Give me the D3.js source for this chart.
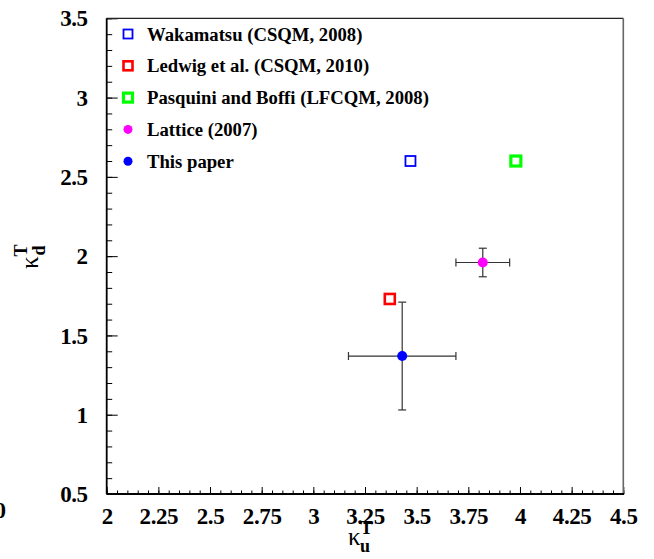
<!DOCTYPE html>
<html>
<head>
<meta charset="utf-8">
<script src="https://cdn.jsdelivr.net/npm/d3@7"></script>
<style>
  html, body { margin: 0; padding: 0; background: #fff; }
  svg { display: block; }
</style>
</head>
<body>
<svg id="chart" width="654" height="559"></svg>
<script>
// ---- data ----
const seriesNames = [
  "Wakamatsu (CSQM, 2008)",
  "Ledwig et al. (CSQM, 2010)",
  "Pasquini and Boffi (LFCQM, 2008)",
  "Lattice (2007)",
  "This paper"
];
const seriesColors = ["#0000ff", "#ff0000", "#00ff00", "#ff00ff", "#0000ff"];
const seriesShapes = ["square", "square", "square", "circle", "circle"];
const kappaU = [3.47, 3.37, 3.98, 3.82, 3.43];
const kappaD = [2.60, 1.73, 2.60, 1.96, 1.37];
const errU = [0, 0, 0, 0.13, 0.26];
const errD = [0, 0, 0, 0.09, 0.34];
const xTickLabels = ["2", "2.25", "2.5", "2.75", "3", "3.25", "3.5", "3.75", "4", "4.25", "4.5"];
const yTickLabels = ["0.5", "1", "1.5", "2", "2.5", "3", "3.5"];

const SERIF = "'Liberation Serif', 'Times New Roman', Times, 'DejaVu Serif', serif";

// ---- layout ----
const svg = d3.select("#chart");
const frame = { left: 106.7, right: 623.3, top: 18.3, bottom: 494 };

const x = d3.scaleLinear().domain([2, 4.5]).range([frame.left, frame.right]);
const y = d3.scaleLinear().domain([0.5, 3.5]).range([frame.bottom, frame.top]);

const g = svg.append("g");

// minor ticks, drawn inward
const xMinor = d3.range(2, 4.5001, 0.05);
const yMinor = d3.range(0.5, 3.5001, 0.1);

g.append("g")
  .attr("transform", `translate(0,${frame.bottom})`)
  .call(d3.axisBottom(x).tickValues(xMinor).tickSize(-3.5).tickFormat(""))
  .call(a => a.select(".domain").remove())
  .selectAll("line").attr("stroke", "#000").attr("stroke-width", 1);

g.append("g")
  .attr("transform", `translate(${frame.left},0)`)
  .call(d3.axisLeft(y).tickValues(yMinor).tickSize(-5.5).tickFormat(""))
  .call(a => a.select(".domain").remove())
  .selectAll("line").attr("stroke", "#000").attr("stroke-width", 1);

// major x ticks + labels
const xAxis = g.append("g")
  .attr("transform", `translate(0,${frame.bottom})`)
  .call(d3.axisBottom(x)
    .tickValues(xTickLabels.map(Number))
    .tickSize(-7)
    .tickPadding(0)
    .tickFormat((d, i) => xTickLabels[i]));
xAxis.select(".domain").remove();
xAxis.selectAll("line").attr("stroke", "#000").attr("stroke-width", 1);
xAxis.selectAll("text")
  .attr("y", 0)
  .attr("dy", "30")
  .style("font-family", SERIF)
  .style("font-size", "23px")
  .style("font-weight", "bold")
  .style("letter-spacing", "-0.4px")
  .attr("fill", "#000");

// major y ticks + labels
const yAxis = g.append("g")
  .attr("transform", `translate(${frame.left},0)`)
  .call(d3.axisLeft(y)
    .tickValues(yTickLabels.map(Number))
    .tickSize(-11)
    .tickPadding(0)
    .tickFormat((d, i) => yTickLabels[i]));
yAxis.select(".domain").remove();
yAxis.selectAll("line").attr("stroke", "#000").attr("stroke-width", 1);
yAxis.selectAll("text")
  .attr("x", -19)
  .attr("dy", "0.33em")
  .style("font-family", SERIF)
  .style("font-size", "23px")
  .style("font-weight", "bold")
  .style("letter-spacing", "-0.4px")
  .attr("fill", "#000");

// clipped label at the left edge
svg.append("text")
  .attr("x", 6).attr("y", 518)
  .attr("text-anchor", "end")
  .style("font-family", SERIF)
  .style("font-size", "23px").style("font-weight", "bold")
  .text("0");

// frame
svg.append("line").attr("x1", frame.left).attr("x2", frame.right)
  .attr("y1", frame.top).attr("y2", frame.top)
  .attr("stroke", "#222").attr("stroke-width", 1.3);
svg.append("line").attr("x1", frame.right).attr("x2", frame.right)
  .attr("y1", frame.top).attr("y2", frame.bottom)
  .attr("stroke", "#666").attr("stroke-width", 1.6);
svg.append("line").attr("x1", frame.left).attr("x2", frame.right + 0.8)
  .attr("y1", frame.bottom).attr("y2", frame.bottom)
  .attr("stroke", "#000").attr("stroke-width", 1.8);
svg.append("line").attr("x1", frame.left).attr("x2", frame.left)
  .attr("y1", frame.top).attr("y2", frame.bottom)
  .attr("stroke", "#000").attr("stroke-width", 1.8);

// error bars
const cap = 4;
const errG = svg.append("g").attr("stroke", "#333").attr("stroke-width", 1.2);
seriesNames.forEach((name, i) => {
  if (errU[i] > 0) {
    const cx = x(kappaU[i]), cy = y(kappaD[i]);
    const x0 = x(kappaU[i] - errU[i]), x1 = x(kappaU[i] + errU[i]);
    const y0 = y(kappaD[i] - errD[i]), y1 = y(kappaD[i] + errD[i]);
    errG.append("line").attr("x1", x0).attr("x2", x1).attr("y1", cy).attr("y2", cy);
    errG.append("line").attr("x1", cx).attr("x2", cx).attr("y1", y0).attr("y2", y1);
    errG.append("line").attr("x1", x0).attr("x2", x0).attr("y1", cy - cap).attr("y2", cy + cap);
    errG.append("line").attr("x1", x1).attr("x2", x1).attr("y1", cy - cap).attr("y2", cy + cap);
    errG.append("line").attr("x1", cx - cap).attr("x2", cx + cap).attr("y1", y0).attr("y2", y0);
    errG.append("line").attr("x1", cx - cap).attr("x2", cx + cap).attr("y1", y1).attr("y2", y1);
  }
});

// markers
const squareStroke = [1.8, 2.6, 3.2];
function drawMarker(sel, i, cx, cy, s) {
  if (seriesShapes[i] === "square") {
    const sw = squareStroke[i] || 2.5;
    sel.append("rect")
      .attr("x", cx - s / 2).attr("y", cy - s / 2)
      .attr("width", s).attr("height", s)
      .attr("fill", "none")
      .attr("stroke", seriesColors[i])
      .attr("stroke-width", sw);
  } else {
    sel.append("circle")
      .attr("cx", cx).attr("cy", cy).attr("r", s / 2)
      .attr("fill", seriesColors[i]);
  }
}
const markG = svg.append("g");
seriesNames.forEach((name, i) => drawMarker(markG, i, x(kappaU[i]), y(kappaD[i]), 10));

// legend
const legend = svg.append("g");
const legX = 128, legTextX = 147, legY0 = 34, legDy = 31.8;
seriesNames.forEach((name, i) => {
  const ly = legY0 + i * legDy;
  drawMarker(legend, i, legX, ly, 9);
  legend.append("text")
    .attr("x", legTextX).attr("y", ly).attr("dy", "0.35em")
    .style("font-family", SERIF)
    .style("font-size", "18.7px").style("font-weight", "bold")
    .attr("fill", "#000")
    .text(name);
});

// axis titles
const xt = svg.append("text")
  .attr("x", 348).attr("y", 545)
  .style("font-family", SERIF)
  .attr("fill", "#000");
xt.append("tspan").style("font-size", "25px").text("κ");
xt.append("tspan").style("font-size", "18px").style("font-weight", "bold").attr("dy", -11).text("T");
xt.append("tspan").style("font-size", "18px").style("font-weight", "bold").attr("dx", -11).attr("dy", 18).text("u");

const yt = svg.append("text")
  .attr("transform", "translate(38,269) rotate(-90)")
  .style("font-family", SERIF)
  .attr("fill", "#000");
yt.append("tspan").style("font-size", "25px").text("κ");
yt.append("tspan").style("font-size", "18px").style("font-weight", "bold").attr("dy", -11).text("T");
yt.append("tspan").style("font-size", "18px").style("font-weight", "bold").attr("dx", -11).attr("dy", 18).text("d");
</script>
</body>
</html>
